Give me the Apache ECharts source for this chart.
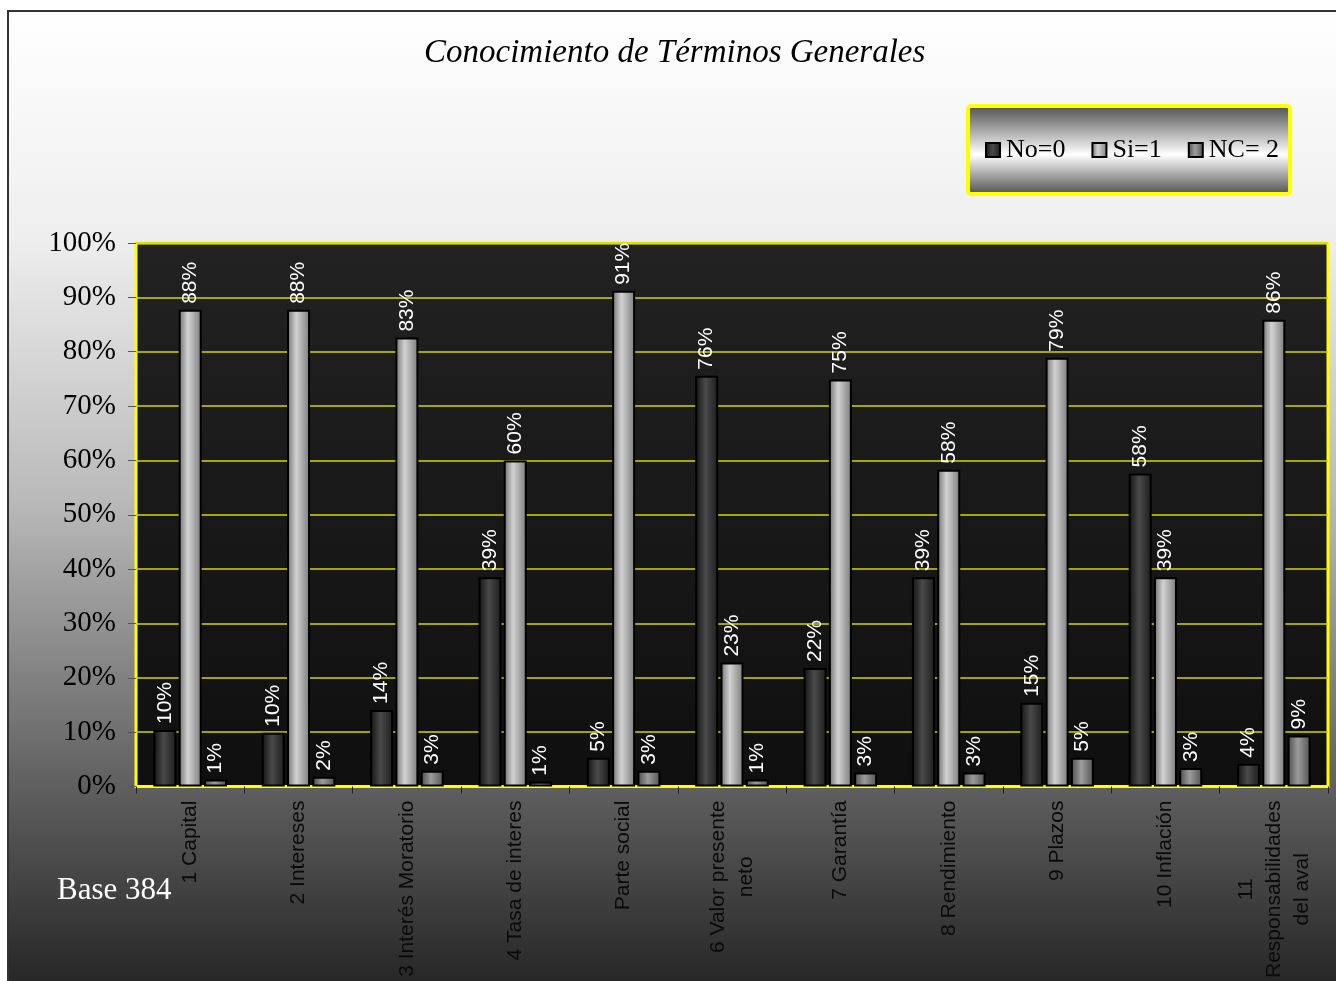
<!DOCTYPE html>
<html>
<head>
<meta charset="utf-8">
<script src="https://cdn.jsdelivr.net/npm/echarts@6/dist/echarts.min.js"></script>
<style>html,body{margin:0;padding:0;background:#fff}#c{width:1336px;height:981px}</style>
</head>
<body>
<div id="c"></div>
<script>
const categories = ['1 Capital', '2 Intereses', '3 Interés Moratorio', '4 Tasa de interes', 'Parte social', '6 Valor presente\nneto', '7 Garantía', '8 Rendimiento', '9 Plazos', '10 Inflación', '11\nResponsabilidades\ndel aval'];
const noValues = [10.4, 9.9, 14.1, 38.5, 5.3, 75.6, 21.8, 38.5, 15.4, 57.6, 4.2];
const siValues = [87.7, 87.7, 82.6, 60.0, 91.2, 22.8, 74.9, 58.3, 78.9, 38.5, 85.9];
const ncValues = [1.3, 1.8, 2.9, 0.9, 2.9, 1.3, 2.6, 2.6, 5.3, 3.4, 9.4];
const yTicks = [0, 10, 20, 30, 40, 50, 60, 70, 80, 90, 100];
const seriesNames = ['No=0', 'Si=1', 'NC= 2'];

const chart = echarts.init(document.getElementById('c'), null, {renderer: 'canvas'});

function hGrad(stops) {
  return new echarts.graphic.LinearGradient(0, 0, 1, 0, stops.map((c, i) => ({offset: c[0], color: c[1]})));
}
const colNo = hGrad([[0, '#111'], [0.45, '#4a4a4a'], [1, '#1c1c1c']]);
const colSi = hGrad([[0, '#6e6e6e'], [0.4, '#d2d2d2'], [1, '#7a7a7a']]);
const colNc = hGrad([[0, '#4a4a4a'], [0.45, '#9c9c9c'], [1, '#505050']]);

const labelCfg = {
  show: true, position: 'top', rotate: 90, align: 'left', verticalAlign: 'middle',
  distance: 6, color: '#ffffff', fontFamily: 'Liberation Sans, Arial, sans-serif', fontSize: 21,
  formatter: p => Math.round(p.value) + '%'
};

function mkSeries(name, data, color) {
  return {
    name: name, type: 'bar', data: data, barWidth: 23, barGap: '10%',
    itemStyle: {color: color, borderColor: '#000', borderWidth: 2},
    label: labelCfg
  };
}

const option = {
  animation: false,
  backgroundColor: '#ffffff',
  graphic: [
    {
      type: 'rect', z: -10, silent: true,
      shape: {x: 8, y: 11, width: 1340, height: 990},
      style: {
        fill: new echarts.graphic.LinearGradient(0, 0, 0, 1, [
          {offset: 0, color: '#ffffff'},
          {offset: 0.23, color: '#eeeeee'},
          {offset: 0.5, color: '#b8b8b8'},
          {offset: 0.68, color: '#7f7f7f'},
          {offset: 0.8, color: '#5a5a5a'},
          {offset: 1, color: '#212121'}
        ]),
        stroke: '#333', lineWidth: 2
      }
    },
    {
      type: 'text', left: 424, top: 37, z: 10,
      style: {text: 'Conocimiento de Términos Generales', fill: '#000',
        font: 'italic 33px "Liberation Serif", "Times New Roman", serif'}
    },
    {
      type: 'text', left: 57, top: 875, z: 10,
      style: {text: 'Base 384', fill: '#fff',
        font: '31px "Liberation Serif", "Times New Roman", serif'}
    }
  ],
  legend: {
    data: seriesNames,
    left: 968, top: 106,
    orient: 'horizontal',
    padding: [31, 11, 31, 17],
    itemGap: 26, itemWidth: 14, itemHeight: 14,
    icon: 'rect',
    backgroundColor: new echarts.graphic.LinearGradient(0, 0, 0, 1, [
      {offset: 0, color: '#4a4a4a'},
      {offset: 0.55, color: '#ffffff'},
      {offset: 1, color: '#4a4a4a'}
    ]),
    borderColor: '#ffff00', borderWidth: 4, borderRadius: 3,
    textStyle: {color: '#000', fontFamily: 'Liberation Serif, Times New Roman, serif', fontSize: 26, padding: [0, 0, 0, 1]},
    itemStyle: {borderColor: '#000', borderWidth: 2}
  },
  grid: {
    left: 136, right: 8, top: 243, bottom: 191,
    show: true,
    backgroundColor: new echarts.graphic.LinearGradient(0, 0, 0, 1, [
      {offset: 0, color: '#222222'},
      {offset: 1, color: '#0f0f0f'}
    ]),
    borderColor: '#ffff00', borderWidth: 3
  },
  xAxis: {
    type: 'category', data: categories,
    axisLine: {show: true, lineStyle: {color: '#ffff00', width: 2}},
    axisTick: {show: true, length: 7, lineStyle: {color: '#222', width: 1}},
    axisLabel: {
      interval: 0, rotate: 90, margin: 14,
      formatter: v => v.split('\n').map(s => '{c|' + s + '}').join('\n'),
      rich: {c: {align: 'center', color: '#0a0a0a', fontFamily: 'Liberation Sans, Arial, sans-serif', fontSize: 21, lineHeight: 28}}
    }
  },
  yAxis: {
    type: 'value', min: 0, max: 100, interval: 10,
    axisLine: {show: false},
    axisTick: {show: true, inside: false, length: 8, lineStyle: {color: '#555', width: 1}},
    splitLine: {show: true, lineStyle: {color: '#d6d600', width: 1.5}},
    axisLabel: {
      margin: 20, color: '#000', fontFamily: 'Liberation Serif, Times New Roman, serif', fontSize: 29,
      formatter: v => yTicks.indexOf(v) >= 0 ? v + '%' : ''
    }
  },
  series: [
    mkSeries(seriesNames[0], noValues, colNo),
    mkSeries(seriesNames[1], siValues, colSi),
    mkSeries(seriesNames[2], ncValues, colNc)
  ]
};
chart.setOption(option);
</script>
</body>
</html>
